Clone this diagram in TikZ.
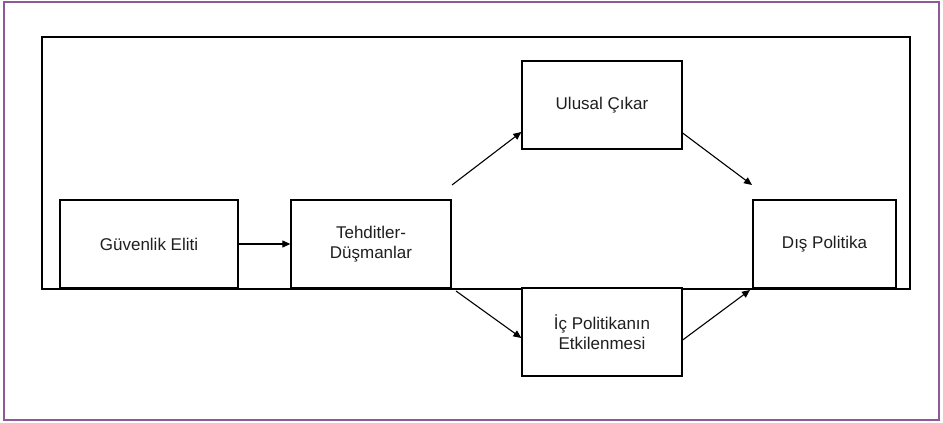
\documentclass[tikz,border=0pt]{standalone}
\usepackage{fontspec}
\setmainfont{Liberation Sans}
\usetikzlibrary{arrows.meta}
\definecolor{frame}{RGB}{140,90,150}
\begin{document}
\begin{tikzpicture}[x=1pt,y=-1pt,
  box/.style={draw=black,line width=1.3pt,fill=white,minimum width=#1,minimum height=88pt,inner sep=0pt,align=center,font=\fontsize{17}{20.5}\selectfont,text=black!88},
  arr/.style={line width=1.1pt,-{Triangle[length=8pt,width=7pt]}}]
\useasboundingbox (0,0) rectangle (943,423);
\draw[frame,line width=2.5pt] (4,2) rectangle (939,420);
\draw[line width=1.3pt] (42,37) rectangle (910,289);
\node[box=178pt] (ge) at (149,244) {Güvenlik Eliti};
\node[box=160pt] (td) at (371,244) {Tehditler-\\Düşmanlar};
\node[box=160pt] (uc) at (602,105) {Ulusal Çıkar};
\node[box=160pt] (ip) at (602,332) {İç Politikanın\\Etkilenmesi};
\node[box=143pt] (dp) at (824.5,244) {Dış Politika};
\coordinate (a1) at (452,185);
\coordinate (a2) at (456,291);
\coordinate (a3) at (752,185);
\coordinate (a4) at (750,290);
\draw[arr] (ge.east) -- (td.west);
\draw[arr] (a1) -- (uc.west |- 0,132);
\draw[arr] (uc.east |- 0,133) -- (a3);
\draw[arr] (a2) -- (ip.west |- 0,338);
\draw[arr] (ip.east |- 0,340) -- (a4);
\end{tikzpicture}
\end{document}
